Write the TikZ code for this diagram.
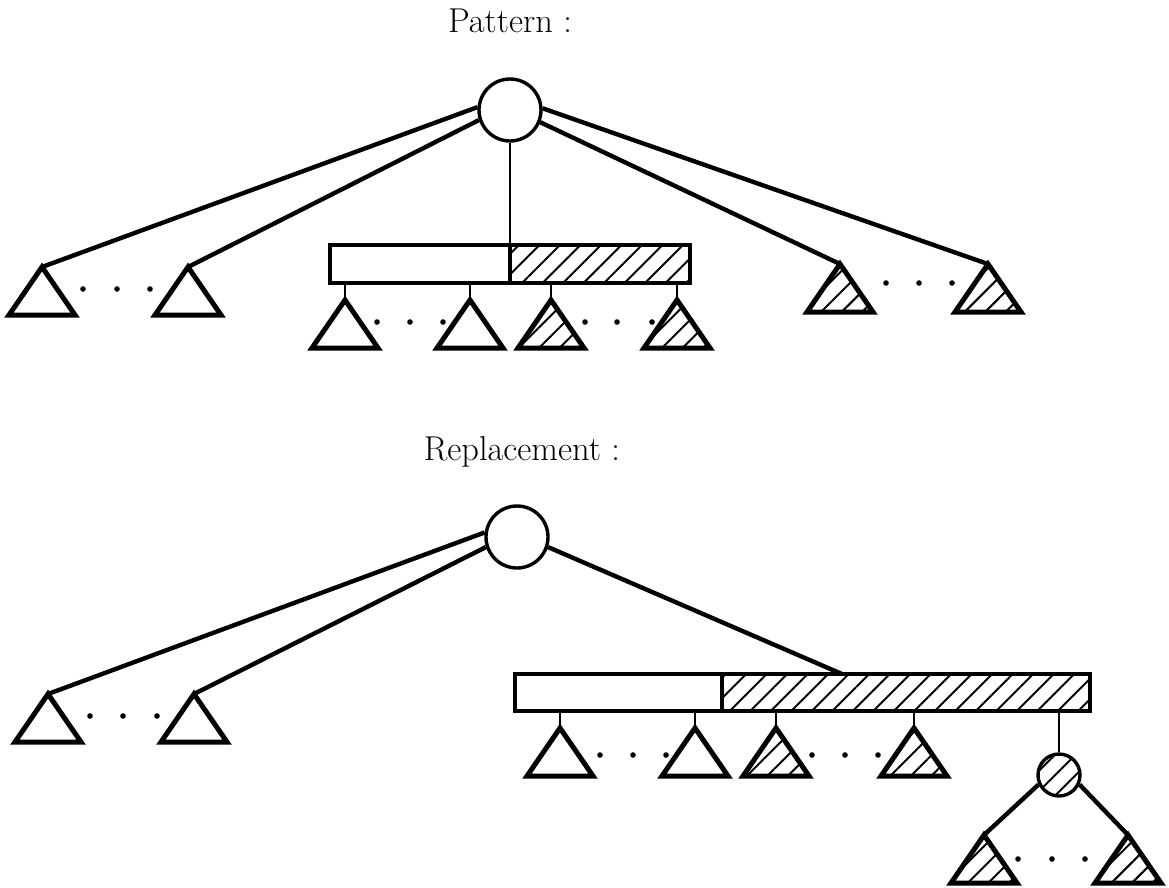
\documentclass[tikz,border=0pt]{standalone}
\usetikzlibrary{patterns.meta}
\begin{document}
\begin{tikzpicture}[x=1pt,y=-1pt,
  hatch/.style={pattern={Lines[angle=45,distance=14.5pt,line width=2pt]}},
  edge/.style={line width=4.4pt},
  stem/.style={line width=2.8pt},
  vert/.style={line width=2.4pt},
  vertex/.style={circle,draw,line width=3.4pt,minimum size=62pt,inner sep=0pt,fill=white},
  smallvertex/.style={circle,draw,line width=3.4pt,minimum size=42pt,inner sep=0pt,hatch},
  cell/.style={rectangle,draw,line width=3.4pt,inner sep=0pt},
  label/.style={anchor=base,font=\fontsize{34.5}{41}\selectfont},
  dot/.style={fill=black},
  tri/.pic={\draw[line width=5pt,fill=white] (-33,48) -- (0,0) -- (33,48) -- cycle;},
  hatchtri/.pic={\draw[line width=5pt,hatch] (-33,48) -- (0,0) -- (33,48) -- cycle;}
]
\useasboundingbox (0,0) rectangle (1169,887);
\fill[white] (0,0) rectangle (1169,887);

% ---------- pattern tree ----------
\node[label] (ptitle) at (510,32) {Pattern :};
\node[vertex] (r1) at (510,110) {};

\coordinate (a1) at (42,267);
\coordinate (a2) at (188,267);
\coordinate (a3) at (840,264);
\coordinate (a4) at (988,264);
\pic at (a1) {tri};
\pic at (a2) {tri};
\pic at (a3) {hatchtri};
\pic at (a4) {hatchtri};

\node[cell,minimum width=180pt,minimum height=38pt] (p1) at (420,264) {};
\node[cell,hatch,minimum width=180pt,minimum height=38pt] (p2) at (600,264) {};

\coordinate (b1) at (345,300);
\coordinate (b2) at (470,300);
\coordinate (b3) at (551,300);
\coordinate (b4) at (677,300);
\pic at (b1) {tri};
\pic at (b2) {tri};
\pic at (b3) {hatchtri};
\pic at (b4) {hatchtri};

\draw[edge] (r1.175) -- (a1);
\draw[edge] (r1.198) -- (a2);
\draw[edge] (r1.338) -- (a3);
\draw[edge] (r1.3) -- (a4);
\draw[vert] (r1.south) -- (r1.south |- p1.north);
\foreach \b in {b1,b2} \draw[stem] (\b) -- (\b |- p1.south);
\foreach \b in {b3,b4} \draw[stem] (\b) -- (\b |- p2.south);

\foreach \x in {83,117,150} \fill[dot] (\x,289) circle (2.8pt);
\foreach \x in {886,919,952} \fill[dot] (\x,283) circle (2.8pt);
\foreach \x in {377,410,443,585,617,652} \fill[dot] (\x,322) circle (2.8pt);

% ---------- replacement tree ----------
\node[label] (rtitle) at (522,460) {Replacement :};
\node[vertex] (r2) at (517,537) {};

\coordinate (c1) at (48,694);
\coordinate (c2) at (194,694);
\pic at (c1) {tri};
\pic at (c2) {tri};

\node[cell,minimum width=207pt,minimum height=37pt] (q1) at (618.5,692.5) {};
\node[cell,hatch,minimum width=368pt,minimum height=37pt] (q2) at (906,692.5) {};
\coordinate (j) at (842,674);

\coordinate (d1) at (560,728);
\coordinate (d2) at (695,728);
\coordinate (d3) at (776,728);
\coordinate (d4) at (914,728);
\pic at (d1) {tri};
\pic at (d2) {tri};
\pic at (d3) {hatchtri};
\pic at (d4) {hatchtri};

\node[smallvertex] (s) at (1059,775) {};
\coordinate (e1) at (984,835);
\coordinate (e2) at (1128,835);
\pic at (e1) {hatchtri};
\pic at (e2) {hatchtri};

\draw[edge] (r2.172) -- (c1);
\draw[edge] (r2.198) -- (c2);
\draw[edge] (r2.342) -- (j);
\foreach \d in {d1,d2} \draw[stem] (\d) -- (\d |- q1.south);
\foreach \d in {d3,d4} \draw[stem] (\d) -- (\d |- q2.south);
\draw[stem] (s.north) -- (s.north |- q2.south);
\draw[edge] (s.205) -- (e1);
\draw[edge] (s.335) -- (e2);

\foreach \x in {90,123,157} \fill[dot] (\x,716) circle (2.8pt);
\foreach \x in {600,633,666,812,845,878} \fill[dot] (\x,755) circle (2.8pt);
\foreach \x in {1018,1052,1085} \fill[dot] (\x,859) circle (2.8pt);
\end{tikzpicture}
\end{document}
